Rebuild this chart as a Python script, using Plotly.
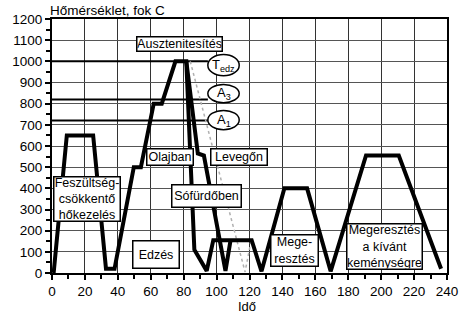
import plotly.graph_objects as go

# ---- data (time, temperature) ----
main_t = [1, 9, 25, 32.8, 38, 49.7, 54, 61.8, 66.7, 75, 81.6, 86.5, 94, 98, 121.3, 127.3, 141.2, 155, 169.3, 190.8, 210.7, 236.4]
main_T = [0, 650, 650, 20, 20, 500, 500, 800, 800, 1000, 1000, 110, 10, 155, 155, 8, 400, 400, 8, 555, 555, 20]

branch_t = [81.6, 88.6, 92.3, 105.4, 108.5]
branch_T = [1000, 565, 555, 10, 155]

air_t = [84, 117.3, 121]
air_T = [1000, 5, 155]

ref_names = ["T<sub>edz</sub>", "A<sub>3</sub>", "A<sub>1</sub>"]
ref_T = [1000, 820, 720]
ref_end = 94.7

x_ticks = list(range(0, 241, 20))
y_ticks = list(range(0, 1201, 100))

W, H = 472, 311
L, R, T, B = 44, 25, 17, 30
FONT = "Liberation Sans, Arial, sans-serif"

def dx(px):
    return (px - L) / ((W - L - R) / 240)

def dy(py):
    return (H - B - py) / ((H - T - B) / 1200)

fig = go.Figure()

for name, val in zip(ref_names, ref_T):
    fig.add_trace(go.Scatter(x=[0, ref_end], y=[val, val], mode="lines",
                             line=dict(color="black", width=2), showlegend=False, hoverinfo="skip"))

fig.add_trace(go.Scatter(x=air_t, y=air_T, mode="lines",
                         line=dict(color="#b0b0b0", width=1.5, dash="dot"), showlegend=False))
fig.add_trace(go.Scatter(x=branch_t, y=branch_T, mode="lines",
                         line=dict(color="black", width=4), showlegend=False))
fig.add_trace(go.Scatter(x=main_t, y=main_T, mode="lines",
                         line=dict(color="black", width=4), showlegend=False))

shapes = []
annotations = []

# ellipses with reference names
ell_py = [(54, 76), (85, 104), (112, 132)]
for name, (y0, y1) in zip(ref_names, ell_py):
    shapes.append(dict(type="circle", xref="x", yref="y", x0=dx(203), x1=dx(235),
                       y0=dy(y1), y1=dy(y0), line=dict(color="black", width=1.5),
                       fillcolor="white", layer="above"))
    annotations.append(dict(x=dx(219), y=dy((y0 + y1) / 2), xref="x", yref="y", text=name,
                            showarrow=False, font=dict(family=FONT, size=13, color="black")))

# labelled boxes: (text, x0, x1, y0, y1) in pixels
boxes = [
    ("Ausztenitesítés", 131, 217, 35, 50),
    ("Olajban", 141, 188, 152, 169),
    ("Levegőn", 206, 263, 152, 169),
    ("Sófürdőben", 167, 237, 189, 212),
    ("Feszültség-<br>csökkentő<br>hőkezelés", 46, 113, 182, 227),
    ("Edzés", 127, 174, 248, 276),
    ("Mege-<br>resztés", 267, 315, 242, 274),
    ("Megeresztés<br>a kívánt<br>keménységre", 345, 421, 230, 276),
]
for text, x0, x1, y0, y1 in boxes:
    annotations.append(dict(x=dx((x0 + x1) / 2), y=dy((y0 + y1) / 2), xref="x", yref="y",
                            text=text, showarrow=False, bgcolor="white",
                            bordercolor="black", borderwidth=1.5, borderpad=0,
                            width=x1 - x0 - 2, height=y1 - y0 - 2,
                            font=dict(family=FONT, size=12.5, color="black")))

annotations.append(dict(x=0, y=1, xref="paper", yref="paper", xanchor="left", yanchor="bottom",
                        yshift=-1, xshift=-4, text="Hőmérséklet, fok C", showarrow=False,
                        font=dict(family=FONT, size=13.5, color="black")))
annotations.append(dict(x=dx(243), y=0, xref="x", yref="paper", yanchor="top", yshift=-24,
                        text="Idő", showarrow=False,
                        font=dict(family=FONT, size=13, color="black")))

fig.update_layout(
    width=W, height=H,
    margin=dict(l=L, r=R, t=T, b=B),
    paper_bgcolor="white", plot_bgcolor="white",
    showlegend=False,
    shapes=shapes, annotations=annotations,
    font=dict(family=FONT, size=13, color="black"),
)
fig.update_xaxes(range=[0, 240], tickvals=x_ticks, ticktext=[str(v) for v in x_ticks],
                 showgrid=True, gridcolor="#333", gridwidth=1,
                 showline=True, linecolor="black", linewidth=2, mirror=True,
                 ticks="outside", ticklen=5, tickwidth=1.5, tickcolor="black",
                 minor=dict(dtick=10, ticks="outside", ticklen=4, tickcolor="black", showgrid=False),
                 zeroline=False, tickfont=dict(family=FONT, size=13.5, color="black"))
fig.update_yaxes(range=[0, 1200], tickvals=y_ticks, ticktext=[str(v) for v in y_ticks],
                 showgrid=True, gridcolor="#555", gridwidth=1,
                 showline=True, linecolor="black", linewidth=2, mirror=True,
                 ticks="outside", ticklen=5, tickwidth=1.5, tickcolor="black",
                 minor=dict(dtick=50, ticks="outside", ticklen=4, tickcolor="black", showgrid=False),
                 zeroline=False, tickfont=dict(family=FONT, size=13.5, color="black"))

fig.write_html("out.html")
